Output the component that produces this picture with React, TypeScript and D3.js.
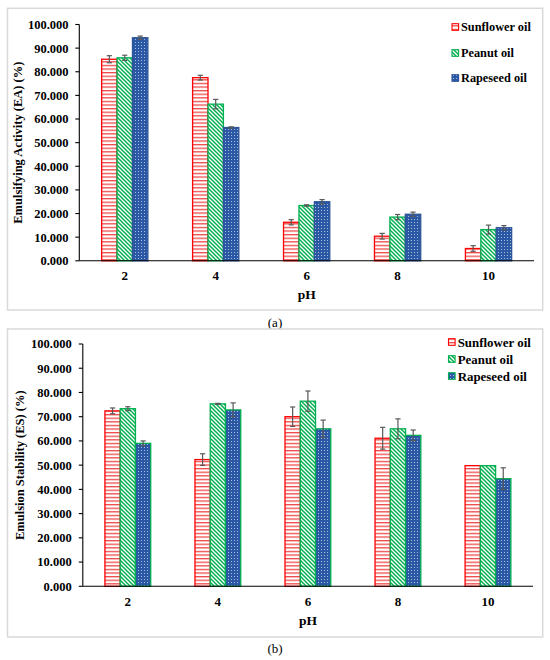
import React from "react";
import * as d3 from "d3";

const categories = ["2", "4", "6", "8", "10"];
const seriesNames = ["Sunflower oil", "Peanut oil", "Rapeseed oil"];
const yTicks = [0, 10, 20, 30, 40, 50, 60, 70, 80, 90, 100];

// (a) Emulsifying Activity
const eaSunflower = [85.3, 77.5, 16.3, 10.4, 5.2];
const eaSunflowerErr = [1.5, 1.0, 1.1, 1.2, 1.2];
const eaPeanut = [85.9, 66.3, 23.4, 18.5, 13.2];
const eaPeanutErr = [1.1, 2.0, 0.3, 1.1, 1.9];
const eaRapeseed = [94.4, 56.4, 25.0, 19.7, 14.0];
const eaRapeseedErr = [0.7, 0.3, 0.9, 0.9, 0.9];

// (b) Emulsion Stability
const esSunflower = [72.4, 52.3, 70.0, 61.1, 49.8];
const esSunflowerErr = [1.2, 2.4, 4.0, 4.5, 0];
const esPeanut = [73.3, 75.3, 76.4, 65.0, 49.8];
const esPeanutErr = [0.8, 0.2, 4.2, 4.1, 0];
const esRapeseed = [59.0, 72.8, 65.0, 62.3, 44.4];
const esRapeseedErr = [1.0, 2.9, 3.6, 2.2, 4.5];

const FONT = "Liberation Serif, Times New Roman, Tinos, DejaVu Serif, serif";
const RED = "#ff0000";
const GREEN = "#00b050";
const BLUE = "#2f5597";

type Panel = {
  values: number[][];
  errs: number[][];
  yLabel: string;
  caption: string;
  frame: [number, number, number, number];
  xRange: [number, number];
  yRange: [number, number];
  tickRight: number;
  yLabelX: number;
  xTickY: number;
  pHY: number;
  captionY: number;
  legend: { markerX: number; textX: number; rows: number[]; size: number };
  strokes: string[];
  fills: string[];
};

const panels: Panel[] = [
  {
    values: [eaSunflower, eaPeanut, eaRapeseed],
    errs: [eaSunflowerErr, eaPeanutErr, eaRapeseedErr],
    yLabel: "Emulsifying Activity (EA) (%)",
    caption: "(a)",
    frame: [7.5, 8.3, 542.7, 310],
    xRange: [79.3, 534],
    yRange: [260.8, 24.5],
    tickRight: 68.5,
    yLabelX: 17.5,
    xTickY: 280,
    pHY: 299,
    captionY: 327,
    legend: { markerX: 452, textX: 461, rows: [27, 53, 78], size: 12.3 },
    strokes: [RED, GREEN, BLUE],
    fills: ["url(#hRed)", "url(#dGreen)", "url(#cBlue)"],
  },
  {
    values: [esSunflower, esPeanut, esRapeseed],
    errs: [esSunflowerErr, esPeanutErr, esRapeseedErr],
    yLabel: "Emulsion Stability (ES) (%)",
    caption: "(b)",
    frame: [7.5, 329, 542.7, 637],
    xRange: [82.8, 533],
    yRange: [586.3, 344],
    tickRight: 71.7,
    yLabelX: 19.3,
    xTickY: 606,
    pHY: 625,
    captionY: 652.5,
    legend: { markerX: 448.5, textX: 457.7, rows: [342, 359, 376], size: 12.9 },
    strokes: [RED, GREEN, GREEN],
    fills: ["url(#hRed)", "url(#dGreen)", "url(#cBlue)"],
  },
];

const txt = { fontFamily: FONT };

function ChartPanel({ p }: { p: Panel }) {
  const x0 = d3.scaleBand<string>().domain(categories).range(p.xRange).padding(0);
  const x1 = d3
    .scaleBand<string>()
    .domain(seriesNames)
    .range([0, x0.bandwidth()])
    .paddingInner(0)
    .paddingOuter(1.45);
  const y = d3.scaleLinear().domain([0, 100]).range(p.yRange);
  const [fx0, fy0, fx1, fy1] = p.frame;
  const axisLeft = p.xRange[0];
  const midX = (p.xRange[0] + p.xRange[1]) / 2;
  const midY = (p.yRange[0] + p.yRange[1]) / 2;

  return (
    <g>
      <rect x={fx0} y={fy0} width={fx1 - fx0} height={fy1 - fy0} fill="#fff" stroke="#d9d9d9" strokeWidth={1.5} />
      {seriesNames.map((s, si) =>
        categories.map((c, ci) => {
          const v = p.values[si][ci];
          const bx = (x0(c) as number) + (x1(s) as number);
          const bw = x1.bandwidth();
          return (
            <rect
              key={s + c}
              x={bx}
              y={y(v)}
              width={bw}
              height={y(0) - y(v)}
              fill={p.fills[si]}
              stroke={p.strokes[si]}
              strokeWidth={1.3}
            />
          );
        })
      )}
      {seriesNames.map((s, si) =>
        categories.map((c, ci) => {
          const v = p.values[si][ci];
          const e = p.errs[si][ci];
          if (e <= 0) return null;
          const cx = (x0(c) as number) + (x1(s) as number) + x1.bandwidth() / 2;
          return (
            <g key={"e" + s + c} stroke="#595959" strokeWidth={1.2}>
              <line x1={cx} x2={cx} y1={y(v + e)} y2={y(v - e)} />
              <line x1={cx - 2.6} x2={cx + 2.6} y1={y(v + e)} y2={y(v + e)} />
              <line x1={cx - 2.6} x2={cx + 2.6} y1={y(v - e)} y2={y(v - e)} />
            </g>
          );
        })
      )}
      <line x1={axisLeft} x2={p.xRange[1]} y1={y(0)} y2={y(0)} stroke="#000" strokeWidth={1.1} />
      <line x1={axisLeft} x2={axisLeft} y1={y(0)} y2={y(100)} stroke="#000" strokeWidth={1.1} />
      {yTicks.map((t) => (
        <g key={"t" + t}>
          <line x1={axisLeft - 4} x2={axisLeft} y1={y(t)} y2={y(t)} stroke="#000" strokeWidth={1.1} />
          <text
            x={p.tickRight}
            y={y(t)}
            dy="0.35em"
            textAnchor="end"
            style={txt}
            fontWeight="bold"
            fontSize={12.5}
            fill="#000"
          >
            {d3.format(".3f")(t)}
          </text>
        </g>
      ))}
      {categories.map((c) => (
        <text
          key={"x" + c}
          x={(x0(c) as number) + x0.bandwidth() / 2}
          y={p.xTickY}
          textAnchor="middle"
          style={txt}
          fontWeight="bold"
          fontSize={13}
        >
          {c}
        </text>
      ))}
      <text x={midX} y={p.pHY} textAnchor="middle" style={txt} fontWeight="bold" fontSize={13.5}>
        pH
      </text>
      <text
        transform={`translate(${p.yLabelX},${midY}) rotate(-90)`}
        textAnchor="middle"
        dy="0.35em"
        style={txt}
        fontWeight="bold"
        fontSize={12.5}
      >
        {p.yLabel}
      </text>
      {seriesNames.map((s, si) => (
        <g key={"l" + s}>
          <rect
            x={p.legend.markerX}
            y={p.legend.rows[si] - 3.3}
            width={6.6}
            height={6.6}
            fill={p.fills[si]}
            stroke={p.strokes[si]}
            strokeWidth={1.1}
          />
          <text
            x={p.legend.textX}
            y={p.legend.rows[si]}
            dy="0.35em"
            style={txt}
            fontWeight="bold"
            fontSize={p.legend.size}
          >
            {s}
          </text>
        </g>
      ))}
      <text x={275} y={p.captionY} textAnchor="middle" style={txt} fontSize={13}>
        {p.caption}
      </text>
    </g>
  );
}

export default function App() {
  return (
    <svg
      width={550}
      height={660}
      viewBox="0 0 550 660"
      style={{ position: "absolute", left: 0, top: 0, background: "#fff" }}
    >
      <defs>
        <pattern id="hRed" patternUnits="userSpaceOnUse" width={4} height={3.6}>
          <rect width={4} height={3.6} fill="#fff" />
          <rect y={0} width={4} height={1.3} fill="#f04848" />
        </pattern>
        <pattern id="dGreen" patternUnits="userSpaceOnUse" width={4} height={4}>
          <rect width={4} height={4} fill="#fff" />
          <path d="M-1,-1 L5,5 M-1,3 L1,5 M3,-1 L5,1" stroke={GREEN} strokeWidth={1.5} />
        </pattern>
        <pattern id="cBlue" patternUnits="userSpaceOnUse" width={3} height={3}>
          <rect width={3} height={3} fill="#2a58a4" />
          <rect x={0} y={0} width={0.9} height={0.9} fill="#c9d6ee" />
        </pattern>
      </defs>
      <rect width={550} height={660} fill="#fff" />
      {panels.map((p, i) => (
        <ChartPanel key={i} p={p} />
      ))}
    </svg>
  );
}
